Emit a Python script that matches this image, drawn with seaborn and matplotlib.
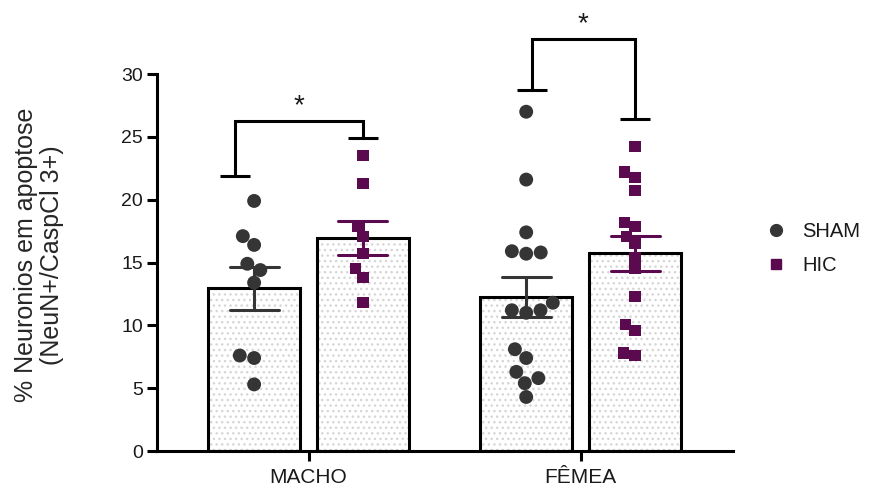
import matplotlib
matplotlib.use('Agg')
import matplotlib.pyplot as plt
from matplotlib.patches import Rectangle
from matplotlib.lines import Line2D
import numpy as np
import pandas as pd
import seaborn as sns

sns.set_style('ticks')
plt.rcParams['font.family'] = ['Liberation Sans', 'DejaVu Sans']
plt.rcParams['text.color'] = '#1a1a1a'
plt.rcParams['xtick.labelcolor'] = '#1a1a1a'
plt.rcParams['ytick.labelcolor'] = '#1a1a1a'

sexos = ['MACHO', 'FÊMEA']
grupos = ['SHAM', 'HIC']

sham_macho = [19.9, 17.1, 16.4, 14.9, 14.4, 13.4, 7.6, 7.4, 5.3]
hic_macho = [23.5, 21.3, 17.9, 17.1, 15.7, 14.5, 13.8, 11.8]
sham_femea = [27.0, 21.6, 17.4, 15.9, 15.8, 15.7, 11.8, 11.2, 11.2, 11.0,
              8.1, 7.4, 6.3, 5.8, 5.4, 4.3]
hic_femea = [24.2, 22.2, 21.8, 20.7, 18.2, 17.9, 17.1, 16.5, 15.4, 14.5,
             12.3, 10.1, 9.6, 7.8, 7.6]

# significance brackets: left leg end, right leg end, top
sig_macho = [21.9, 24.9, 26.3]
sig_femea = [28.7, 26.4, 32.8]

cores = {'SHAM': '#353535', 'HIC': '#5c0a50'}

rows = []
for sexo, grupo, vals in [('MACHO', 'SHAM', sham_macho), ('MACHO', 'HIC', hic_macho),
                          ('FÊMEA', 'SHAM', sham_femea), ('FÊMEA', 'HIC', hic_femea)]:
    rows += [(sexo, grupo, v) for v in vals]
df = pd.DataFrame(rows, columns=['sexo', 'grupo', 'valor'])

fig = plt.figure(figsize=(8.75, 4.88), dpi=100)
ax = fig.add_axes([0.1794, 0.0758, 0.6583, 0.7725])

sns.barplot(data=df, x='sexo', y='valor', hue='grupo', hue_order=grupos,
            order=sexos, errorbar='se', capsize=0.36, width=0.8, gap=0.16,
            palette={'SHAM': 'white', 'HIC': 'white'}, edgecolor='black',
            linewidth=2.2, legend=False, err_kws={'linewidth': 2.2}, ax=ax)

# error bars take the colour of their group (SHAM left, HIC right of each tick)
for line in ax.lines:
    xm = np.nanmean(line.get_xdata())
    line.set_color(cores['SHAM'] if xm < np.round(xm) else cores['HIC'])

# dotted fill underneath the bar outlines
for bar in list(ax.patches):
    ax.add_patch(Rectangle(bar.get_xy(), bar.get_width(), bar.get_height(),
                           facecolor='white', edgecolor='#d6d6d6', linewidth=0,
                           hatch='...', zorder=0.9))
    bar.set_facecolor('none')

for g, mk, sz in [('SHAM', 'o', 10), ('HIC', 's', 8)]:
    sns.swarmplot(data=df[df.grupo == g], x='sexo', y='valor', hue='grupo',
                  hue_order=grupos, order=sexos, dodge=True, palette=cores,
                  marker=mk, size=sz, linewidth=0, legend=False, zorder=3, ax=ax)


def bracket(x0, x1, vals, cap=0.055):
    y0, y1, top = vals
    kw = dict(color='black', lw=2.2, clip_on=False, solid_capstyle='butt')
    ax.plot([x0, x0, x1, x1], [y0, top, top, y1], solid_joinstyle='miter', **kw)
    ax.plot([x0 - cap, x0 + cap], [y0, y0], **kw)
    ax.plot([x1 - cap, x1 + cap], [y1, y1], **kw)
    ax.text((x0 + x1) / 2, top + 0.1, '*', ha='center', va='bottom',
            fontsize=20, clip_on=False)


bracket(-0.27, 0.2, sig_macho)
bracket(0.82, 1.2, sig_femea)

ax.set_ylim(0, 30)
ax.set_xlim(-0.557, 1.56)
ax.set_yticks(range(0, 31, 5))
ax.set_xlabel('')
ax.set_ylabel('% Neuronios em apoptose\n(NeuN+/CaspCl 3+)', fontsize=18,
              linespacing=1.1)
ax.yaxis.set_label_coords(-0.162, 0.52)
ax.tick_params(axis='both', width=2.2, length=7, color='black')
ax.tick_params(axis='y', labelsize=14, pad=3)
ax.tick_params(axis='x', labelsize=15, pad=5)
for s in ['left', 'bottom']:
    ax.spines[s].set_linewidth(2.2)
    ax.spines[s].set_color('black')
sns.despine(ax=ax)

handles = [Line2D([], [], marker='o', ls='none', color=cores['SHAM'], markersize=8.5),
           Line2D([], [], marker='s', ls='none', color=cores['HIC'], markersize=7)]
fig.legend(handles, grupos, loc='center left', bbox_to_anchor=(0.855, 0.49),
           frameon=False, fontsize=14.5, handlelength=1, handletextpad=0.8,
           labelspacing=0.75)

fig.savefig('out.png', dpi=100)
